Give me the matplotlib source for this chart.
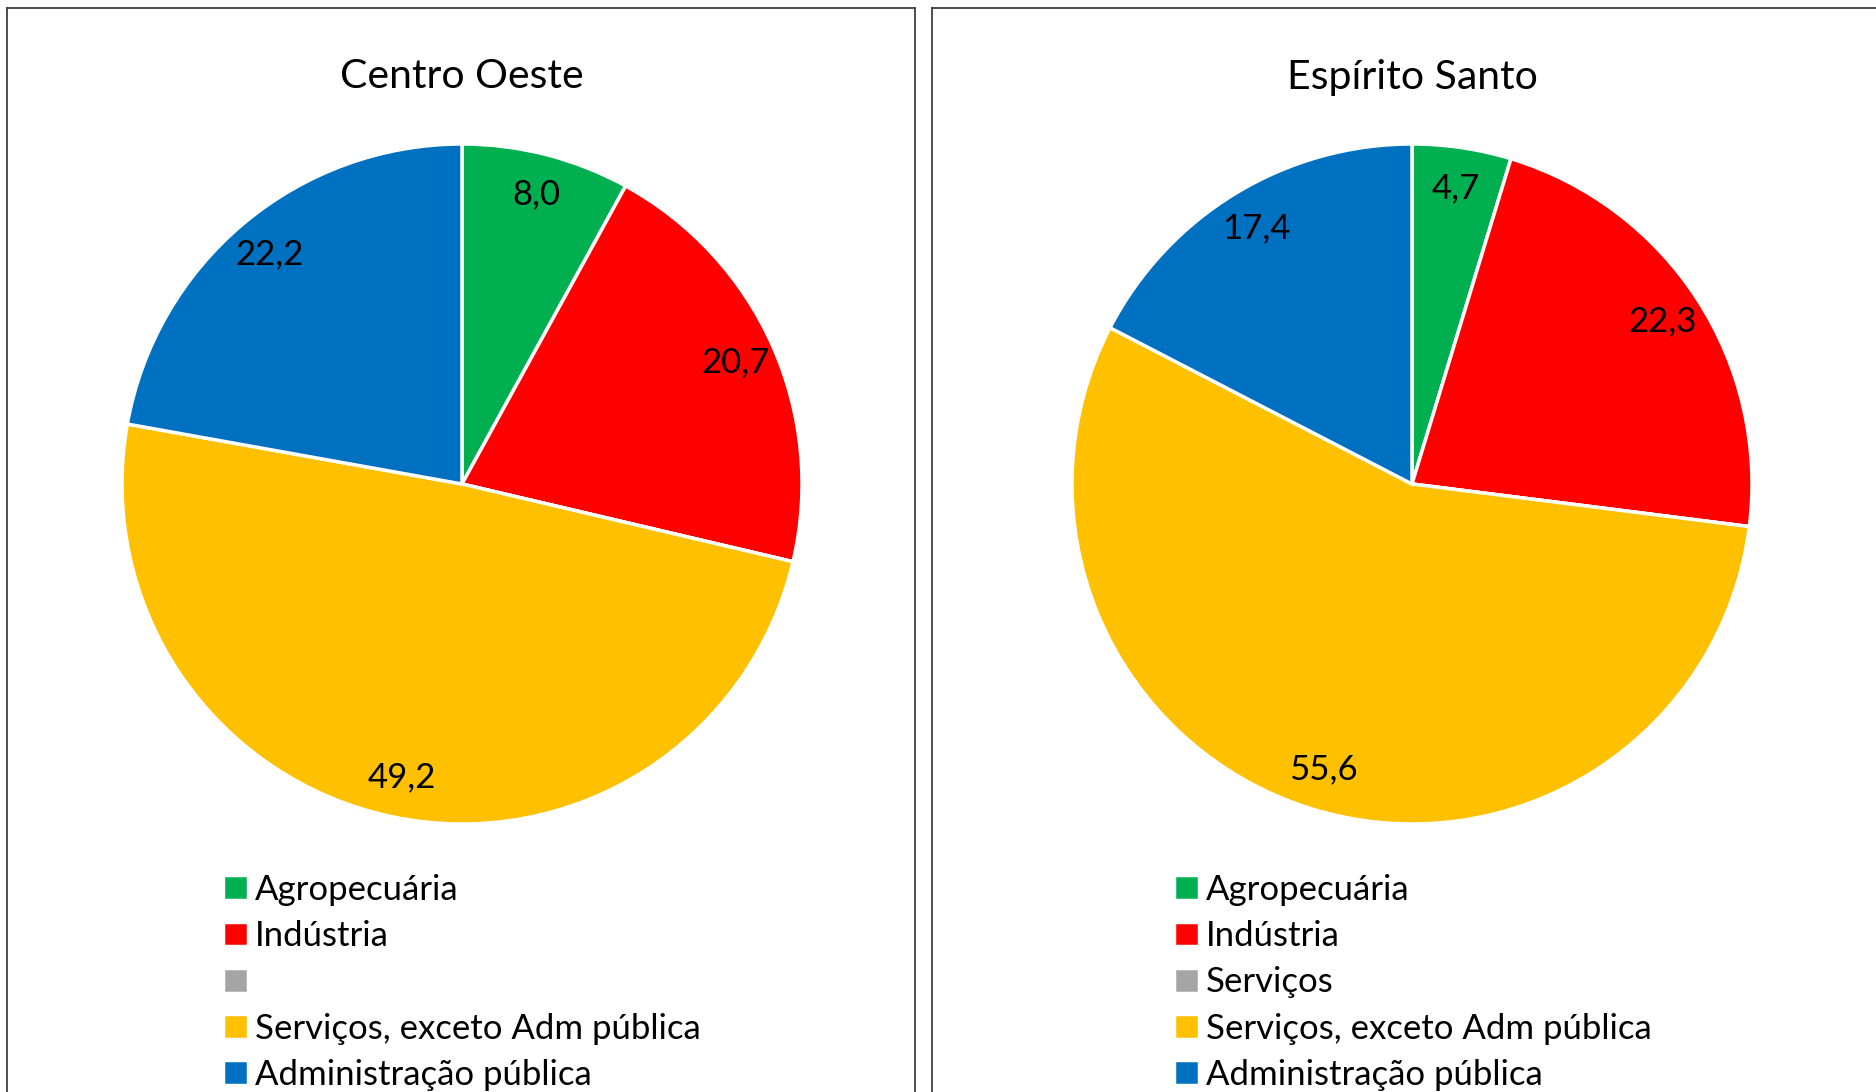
import matplotlib.pyplot as plt
from matplotlib.lines import Line2D
import numpy as np

plt.rcParams['font.family'] = ['Lato', 'DejaVu Sans']

# Data (participação % no valor adicionado)
categories = ['Agropecuária', 'Indústria', 'Serviços', 'Serviços, exceto Adm pública', 'Administração pública']
colors = ['#00B050', '#FF0000', '#A5A5A5', '#FFC000', '#0070C0']

centro_oeste = [8.0, 20.7, 0.0, 49.2, 22.2]
espirito_santo = [4.7, 22.3, 0.0, 55.6, 17.4]

legend_co = ['Agropecuária', 'Indústria', '', 'Serviços, exceto Adm pública', 'Administração pública']
legend_es = categories

W, H = 1876, 1092
fig = plt.figure(figsize=(W / 100, H / 100), dpi=100)

# panel frames
line_kw = dict(color='#404040', linewidth=1.3, transform=fig.transFigure)
for x0, x1 in [(7, 915), (932, W + 5)]:
    fig.add_artist(Line2D([x0 / W, x0 / W], [0, 1 - 8 / H], **line_kw))
    fig.add_artist(Line2D([x0 / W, x1 / W], [1 - 8 / H, 1 - 8 / H], **line_kw))
    if x1 < W:
        fig.add_artist(Line2D([x1 / W, x1 / W], [0, 1 - 8 / H], **line_kw))


def draw_panel(cx, title, values, leg_labels, leg_x):
    r = 340
    ax = fig.add_axes([(cx - r) / W, (H - 484 - r) / H, 2 * r / W, 2 * r / H])
    wedges, _ = ax.pie(values, colors=colors, startangle=90, counterclock=False,
                       wedgeprops=dict(edgecolor='white', linewidth=2.5))
    ax.set_xlim(-1, 1)
    ax.set_ylim(-1, 1)
    ax.set_aspect('equal')
    for w, v in zip(wedges, values):
        if v == 0:
            continue
        ang = np.deg2rad((w.theta1 + w.theta2) / 2)
        ax.text(0.88 * np.cos(ang), 0.88 * np.sin(ang), f'{v:.1f}'.replace('.', ','),
                ha='center', va='center', fontsize=25, color='black')
    fig.text(cx / W, 1 - 77 / H, title, ha='center', va='center', fontsize=29.5)
    fig.legend(wedges, leg_labels, loc='upper left', bbox_to_anchor=(leg_x / W, 1 - 874 / H),
               frameon=False, fontsize=25, handlelength=0.72, handleheight=0.72,
               handletextpad=0.2, labelspacing=0.41, borderpad=0, borderaxespad=0)


draw_panel(462, 'Centro Oeste', centro_oeste, legend_co, 223)
draw_panel(1412, 'Espírito Santo', espirito_santo, legend_es, 1174)

fig.savefig('out.png', dpi=100)
